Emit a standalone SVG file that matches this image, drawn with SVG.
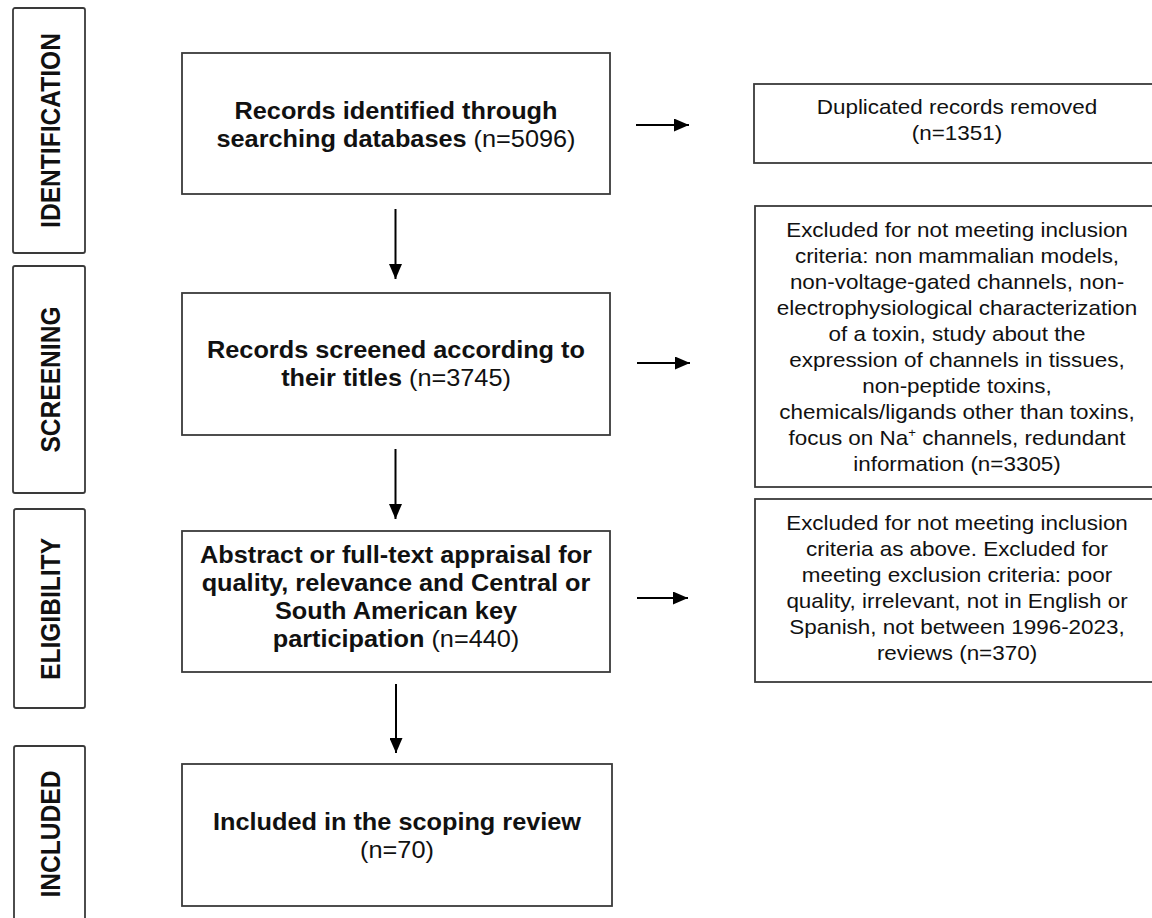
<svg xmlns="http://www.w3.org/2000/svg" width="1152" height="918" viewBox="0 0 1152 918">
<defs>
<style>
.box{fill:#fff;stroke:#3a3a3a;stroke-width:1.8}
.stage{fill:#fff;stroke:#3a3a3a;stroke-width:1.8}
.lbl{font-family:"Liberation Sans",Arial,sans-serif;font-weight:bold;font-size:24.6px;fill:#111;text-anchor:middle}
.main{font-family:"Liberation Sans",Arial,sans-serif;font-weight:bold;font-size:23px;fill:#111;text-anchor:middle}
.side{font-family:"Liberation Sans",Arial,sans-serif;font-size:20.4px;fill:#111;text-anchor:middle}
.n{font-weight:normal}
.arr{stroke:#000;stroke-width:2;fill:none;marker-end:url(#ah)}
</style>
<marker id="ah" markerUnits="userSpaceOnUse" markerWidth="15" markerHeight="13" refX="15" refY="6.5" orient="auto">
<path d="M0,0 L15,6.5 L0,13 z" fill="#000"/>
</marker>
</defs>

<g id="stage-identification">
<rect class="stage" x="13" y="8" width="72" height="245" rx="2"/>
<text class="lbl" transform="translate(59.5,130.5) rotate(-90) scale(1,1.1)" x="0" y="0">IDENTIFICATION</text>
</g>
<g id="stage-screening">
<rect class="stage" x="13" y="266" width="72" height="227" rx="2"/>
<text class="lbl" transform="translate(59.5,379.5) rotate(-90) scale(1,1.1)" x="0" y="0">SCREENING</text>
</g>
<g id="stage-eligibility">
<rect class="stage" x="14" y="509" width="71" height="199" rx="2"/>
<text class="lbl" transform="translate(59.5,609) rotate(-90) scale(1,1.1)" x="0" y="0">ELIGIBILITY</text>
</g>
<g id="stage-included">
<rect class="stage" x="14" y="746" width="71" height="190" rx="2"/>
<text class="lbl" transform="translate(59.5,834) rotate(-90) scale(1,1.1)" x="0" y="0">INCLUDED</text>
</g>

<g id="records-identified">
<rect class="box" x="182" y="53" width="428" height="141"/>
<g transform="translate(396,0) scale(1.1,1)">
<text class="main" x="0" y="119">Records identified through</text>
<text class="main" x="0" y="147">searching databases <tspan class="n">(n=5096)</tspan></text>
</g>
</g>
<g id="records-screened">
<rect class="box" x="182" y="293" width="428" height="142"/>
<g transform="translate(396,0) scale(1.1,1)">
<text class="main" x="0" y="358.5">Records screened according to</text>
<text class="main" x="0" y="386.5">their titles <tspan class="n">(n=3745)</tspan></text>
</g>
</g>
<g id="full-text-appraisal">
<rect class="box" x="182" y="531" width="428" height="141"/>
<g transform="translate(396,0) scale(1.1,1)">
<text class="main" x="0" y="563.5">Abstract or full-text appraisal for</text>
<text class="main" x="0" y="591.5">quality, relevance and Central or</text>
<text class="main" x="0" y="619.5">South American key</text>
<text class="main" x="0" y="647.5">participation <tspan class="n">(n=440)</tspan></text>
</g>
</g>
<g id="included">
<rect class="box" x="182" y="764" width="430" height="142"/>
<g transform="translate(397,0) scale(1.1,1)">
<text class="main" x="0" y="830">Included in the scoping review</text>
<text class="main" x="0" y="858"><tspan class="n">(n=70)</tspan></text>
</g>
</g>

<g id="duplicates-removed">
<rect class="box" x="754" y="84" width="410" height="79"/>
<g transform="translate(957,0) scale(1.1,1)">
<text class="side" x="0" y="114">Duplicated records removed</text>
<text class="side" x="0" y="140">(n=1351)</text>
</g>
</g>
<g id="excluded-screening">
<rect class="box" x="755" y="206" width="410" height="281"/>
<g transform="translate(957,0) scale(1.1,1)">
<text class="side" x="0" y="237">Excluded for not meeting inclusion</text>
<text class="side" x="0" y="263">criteria: non mammalian models,</text>
<text class="side" x="0" y="289">non-voltage-gated channels, non-</text>
<text class="side" x="0" y="315">electrophysiological characterization</text>
<text class="side" x="0" y="341">of a toxin, study about the</text>
<text class="side" x="0" y="367">expression of channels in tissues,</text>
<text class="side" x="0" y="393">non-peptide toxins,</text>
<text class="side" x="0" y="419">chemicals/ligands other than toxins,</text>
<text class="side" x="0" y="445">focus on Na<tspan font-size="12" dy="-8">+</tspan><tspan dy="8"> channels, redundant</tspan></text>
<text class="side" x="0" y="471">information (n=3305)</text>
</g>
</g>
<g id="excluded-eligibility">
<rect class="box" x="755" y="499" width="410" height="183"/>
<g transform="translate(957,0) scale(1.1,1)">
<text class="side" x="0" y="530">Excluded for not meeting inclusion</text>
<text class="side" x="0" y="556">criteria as above. Excluded for</text>
<text class="side" x="0" y="582">meeting exclusion criteria: poor</text>
<text class="side" x="0" y="608">quality, irrelevant, not in English or</text>
<text class="side" x="0" y="634">Spanish, not between 1996-2023,</text>
<text class="side" x="0" y="660">reviews (n=370)</text>
</g>
</g>

<g id="connectors">
<line class="arr" x1="395.5" y1="209" x2="395.5" y2="279"/>
<line class="arr" x1="395.5" y1="449" x2="395.5" y2="519"/>
<line class="arr" x1="396" y1="684" x2="396" y2="753"/>
<line class="arr" x1="636" y1="125" x2="689" y2="125"/>
<line class="arr" x1="637" y1="363" x2="690" y2="363"/>
<line class="arr" x1="637" y1="598" x2="688" y2="598"/>
</g>
</svg>
